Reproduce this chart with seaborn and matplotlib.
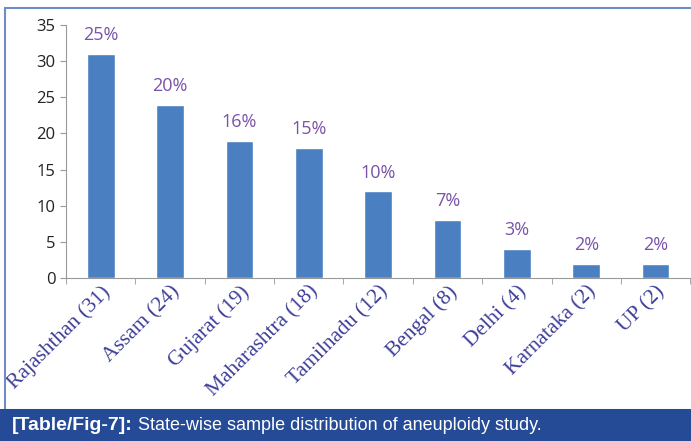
import numpy as np
import pandas as pd
import matplotlib.pyplot as plt
import seaborn as sns
from matplotlib.patches import Rectangle

states = ['Rajashthan (31)', 'Assam (24)', 'Gujarat (19)', 'Maharashtra (18)',
          'Tamilnadu (12)', 'Bengal (8)', 'Delhi (4)', 'Karnataka (2)', 'UP (2)']
counts = [31, 24, 19, 18, 12, 8, 4, 2, 2]
percents = ['25%', '20%', '16%', '15%', '10%', '7%', '3%', '2%', '2%']

df = pd.DataFrame({'state': states, 'count': counts})

sns.set_style('white')
plt.rcParams['font.family'] = ['Open Sans', 'DejaVu Sans']

fig = plt.figure(figsize=(6.91, 4.41), dpi=100)
ax = fig.add_axes([0.0955, 0.3696, 0.9035, 0.5737])

sns.barplot(data=df, x='state', y='count', color='#4a7fc1', saturation=1,
            width=0.4, ax=ax)

ax.set_ylim(0, 35)
ax.set_xlim(-0.5, len(states) - 0.5)
ax.set_yticks(range(0, 36, 5))
ax.set_xlabel('')
ax.set_ylabel('')

for i, (c, p) in enumerate(zip(counts, percents)):
    ax.annotate(p, (i, c), xytext=(0, 7), textcoords='offset points',
                ha='center', va='bottom', fontsize=13, color='#7a52a8')

ax.tick_params(axis='y', labelsize=12, labelcolor='#222222', length=4,
               color='#999999', direction='out', left=True)
ax.set_xticks(np.arange(-0.5, len(states), 1), minor=True)
ax.tick_params(axis='x', which='major', length=0, pad=3)
ax.tick_params(axis='x', which='minor', length=4, color='#999999', direction='out', bottom=True)
ax.set_xticklabels(states, rotation=45, ha='right', rotation_mode='anchor',
                   family='Liberation Serif', fontsize=15.5, color='#3d3d9a')

for s in ['top', 'right']:
    ax.spines[s].set_visible(False)
ax.spines['left'].set_color('#999999')
ax.spines['bottom'].set_color('#999999')

# frame and caption bar
fig.patches.append(Rectangle((5 / 691, 31 / 441), 1.0, 1 - 8 / 441 - 31 / 441,
                             transform=fig.transFigure, fill=False,
                             edgecolor='#6d8cc8', linewidth=1.5))
fig.patches.append(Rectangle((0, 0), 1, 32 / 441, transform=fig.transFigure,
                             facecolor='#254a96', edgecolor='none'))
t1 = fig.text(12 / 691, 15 / 441, '[Table/Fig-7]:', color='white', fontsize=14,
              fontweight='bold', va='center', family='Liberation Sans')
fig.canvas.draw()
bb = t1.get_window_extent()
fig.text((bb.x1 + 5) / 691, 15 / 441, 'State-wise sample distribution of aneuploidy study.',
         color='white', fontsize=13, va='center', family='Liberation Sans')

fig.savefig('out.png', dpi=100)
